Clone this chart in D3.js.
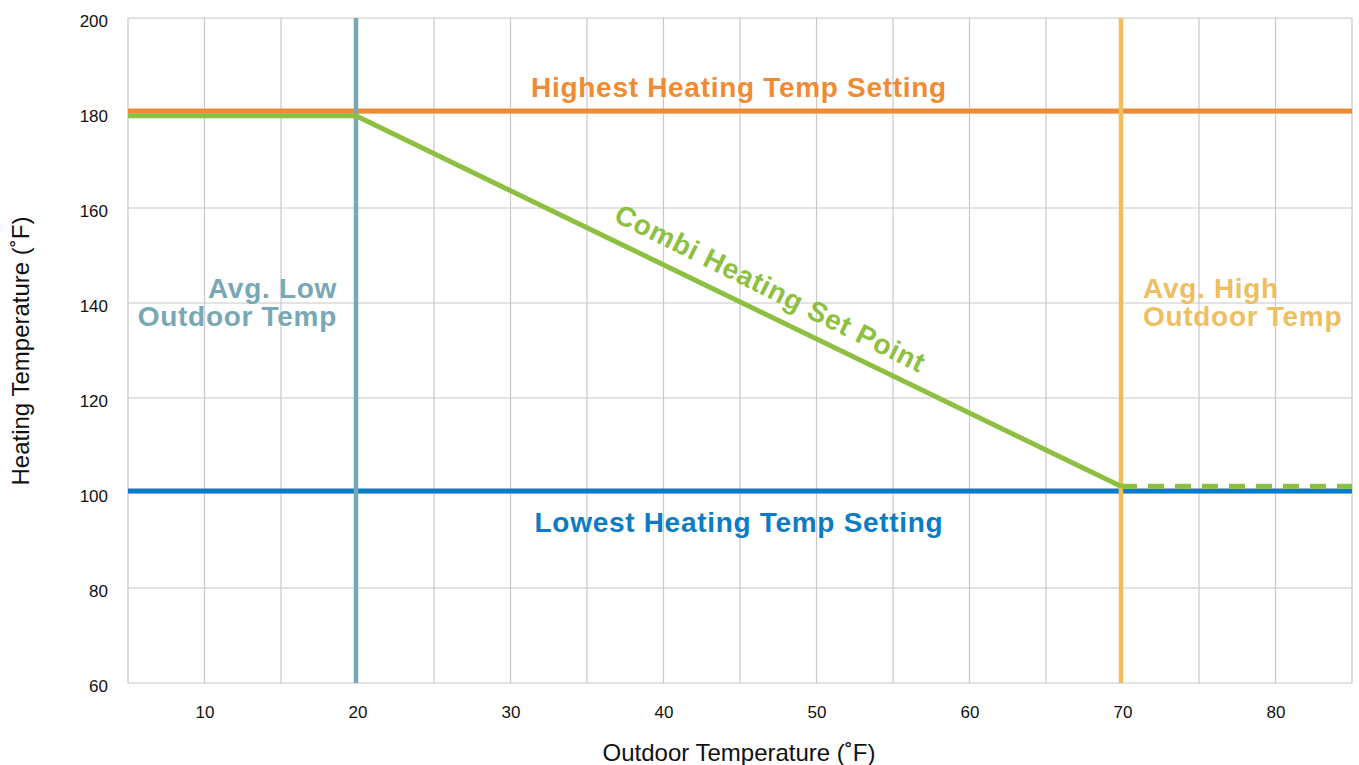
<!DOCTYPE html>
<html>
<head>
<meta charset="utf-8">
<script src="https://cdn.jsdelivr.net/npm/d3@7"></script>
<style>
  body { margin: 0; background: #fff; }
  text { font-family: "Liberation Sans", Arial, Helvetica, sans-serif; }
</style>
</head>
<body>
<svg id="chart" width="1359" height="765"></svg>
<script>
// values
var xTicks      = [10, 20, 30, 40, 50, 60, 70, 80];
var yTicks      = [60, 80, 100, 120, 140, 160, 180, 200];
var xGrid       = [5, 10, 15, 20, 25, 30, 35, 40, 45, 50, 55, 60, 65, 70, 75, 80, 85];
var setPointX   = [5, 19.9, 69.9];
var setPointY   = [179.4, 179.4, 101.4];
var flatX       = [69.9, 85];
var flatY       = [101.4, 101.4];
var highestTemp = 180.4;
var lowestTemp  = 100.4;
var avgLow      = 19.9;
var avgHigh     = 69.9;

var plotLeft = 128, plotRight = 1352, plotTop = 18, plotBottom = 683;

var svg = d3.select('#chart');

var x = d3.scaleLinear().domain([5, 85]).range([plotLeft, plotRight]);
var y = d3.scaleLinear().domain([60, 200]).range([plotBottom, plotTop]);

// grid
svg.append('g')
   .selectAll('line')
   .data(xGrid)
   .enter()
   .append('line')
   .attr('x1', function(d) { return x(d) })
   .attr('x2', function(d) { return x(d) })
   .attr('y1', plotTop)
   .attr('y2', plotBottom)
   .attr('stroke', '#c8c8c8')
   .attr('stroke-width', 1.2);

svg.append('g')
   .selectAll('line')
   .data(yTicks)
   .enter()
   .append('line')
   .attr('x1', plotLeft)
   .attr('x2', plotRight)
   .attr('y1', function(d) { return y(d) })
   .attr('y2', function(d) { return y(d) })
   .attr('stroke', '#c8c8c8')
   .attr('stroke-width', 1.2);

// axes (labels only)
var xAxis = svg.append('g')
               .attr('transform', 'translate(0,' + plotBottom + ')')
               .call(d3.axisBottom(x).tickValues(xTicks).tickSize(0).tickPadding(23));

var yAxis = svg.append('g')
               .attr('transform', 'translate(' + plotLeft + ',0)')
               .call(d3.axisLeft(y).tickValues(yTicks).tickSize(0).tickPadding(20));

[xAxis, yAxis].forEach(function(a) {
  a.select('.domain').remove();
  a.selectAll('text')
   .style('font-size', '17px')
   .style('font-family', '"Liberation Sans", Arial, sans-serif')
   .attr('fill', '#111');
});
yAxis.selectAll('text').attr('dy', '0.5em');

// horizontal limit lines
svg.append('line')
   .attr('x1', plotLeft).attr('x2', plotRight)
   .attr('y1', y(lowestTemp)).attr('y2', y(lowestTemp))
   .attr('stroke', '#0a7bc4')
   .attr('stroke-width', 5);

svg.append('line')
   .attr('x1', plotLeft).attr('x2', plotRight)
   .attr('y1', y(highestTemp)).attr('y2', y(highestTemp))
   .attr('stroke', '#f08a33')
   .attr('stroke-width', 5);

// vertical outdoor temp lines
svg.append('line')
   .attr('x1', x(avgLow)).attr('x2', x(avgLow))
   .attr('y1', plotTop).attr('y2', plotBottom)
   .attr('stroke', '#78a8b4')
   .attr('stroke-width', 4.5);

svg.append('line')
   .attr('x1', x(avgHigh)).attr('x2', x(avgHigh))
   .attr('y1', plotTop).attr('y2', plotBottom)
   .attr('stroke', '#eebf62')
   .attr('stroke-width', 4.5);

// set point line
var line = d3.line()
             .x(function(d) { return x(d[0]) })
             .y(function(d) { return y(d[1]) });

svg.append('path')
   .attr('d', line(d3.zip(setPointX, setPointY)))
   .attr('fill', 'none')
   .attr('stroke', '#8dbf41')
   .attr('stroke-width', 5);

svg.append('path')
   .attr('d', line(d3.zip(flatX, flatY)))
   .attr('fill', 'none')
   .attr('stroke', '#8dbf41')
   .attr('stroke-width', 5)
   .attr('stroke-dasharray', '16,11');

// labels
function label(txt, px, py, color, anchor) {
  return svg.append('text')
            .attr('x', px)
            .attr('y', py)
            .attr('text-anchor', anchor)
            .attr('fill', color)
            .style('font-size', '28px')
            .style('font-weight', 'bold')
            .style('letter-spacing', '0.7px')
            .text(txt);
}

label('Highest Heating Temp Setting', 739, 97, '#f08a33', 'middle');
label('Lowest Heating Temp Setting', 739, 532, '#0a7bc4', 'middle');
label('Avg. Low', 337, 298, '#78a8b4', 'end');
label('Outdoor Temp', 337, 326, '#78a8b4', 'end');
label('Avg. High', 1143, 298, '#eebf62', 'start');
label('Outdoor Temp', 1143, 326, '#eebf62', 'start');

var ang = Math.atan2(y(setPointY[2]) - y(setPointY[1]), x(setPointX[2]) - x(setPointX[1])) * 180 / Math.PI;
label('Combi Heating Set Point', 0, 0, '#8dbf41', 'middle')
   .attr('transform', 'translate(766,297) rotate(' + (ang + 0.6) + ')');

// axis titles
svg.append('text')
   .attr('x', 739)
   .attr('y', 761)
   .attr('text-anchor', 'middle')
   .attr('fill', '#111')
   .style('font-size', '24px')
   .text('Outdoor Temperature (˚F)');

svg.append('text')
   .attr('transform', 'translate(29,351) rotate(-90)')
   .attr('text-anchor', 'middle')
   .attr('fill', '#111')
   .style('font-size', '24px')
   .text('Heating Temperature (˚F)');
</script>
</body>
</html>
